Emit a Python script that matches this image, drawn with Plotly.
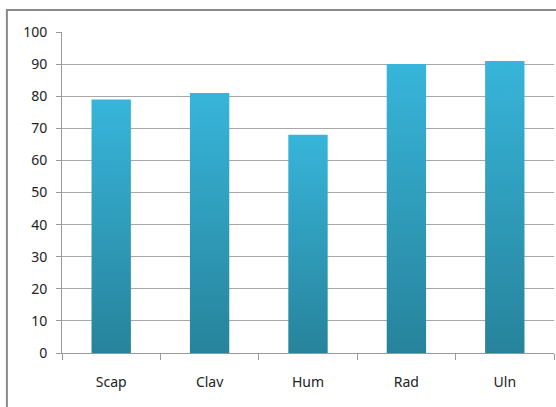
import plotly.graph_objects as go

categories = ["Scap", "Clav", "Hum", "Rad", "Uln"]
values = [79, 81, 68, 90, 91]
y_ticks = [0, 10, 20, 30, 40, 50, 60, 70, 80, 90, 100]

half_width = 0.2
fig = go.Figure()
for i, (cat, v) in enumerate(zip(categories, values)):
    fig.add_trace(go.Scatter(
        x=[i - half_width, i - half_width, i + half_width, i + half_width, i - half_width],
        y=[0, v, v, 0, 0],
        mode="lines",
        line=dict(width=0, color="rgba(0,0,0,0)"),
        fill="toself",
        fillgradient=dict(type="vertical",
                          colorscale=[[0, "#27839b"], [1, "#37b5da"]]),
        name=cat,
        hoverinfo="name+y",
        showlegend=False,
    ))

fig.update_layout(
    width=556, height=407,
    margin=dict(l=62, r=2, t=32, b=54),
    paper_bgcolor="white", plot_bgcolor="white",
    font=dict(family="Noto Sans", size=14, color="#222"),
    showlegend=False,
)
fig.update_xaxes(
    range=[-0.5, len(categories) - 0.5],
    tickvals=list(range(len(categories))), ticktext=categories,
    ticks="", showgrid=False, zeroline=False,
    showline=True, linecolor="#9a9a9a", linewidth=1,
    ticklabelstandoff=16,
    minor=dict(tick0=0.5, dtick=1, ticks="outside", ticklen=6,
               tickcolor="#9a9a9a", showgrid=False),
)
fig.update_yaxes(
    range=[0, 100], tickvals=y_ticks,
    ticks="outside", ticklen=5, tickcolor="#9a9a9a",
    showgrid=True, gridcolor="#a8a8a8", gridwidth=1,
    showline=True, linecolor="#9a9a9a", linewidth=1,
    zeroline=False, ticklabelstandoff=6,
)
fig.add_shape(type="rect", xref="paper", yref="paper",
              x0=-0.112, x1=1.02, y0=-0.25, y1=1.0685,
              line=dict(color="#8a8a8a", width=2), layer="above")
fig.write_html("out.html")
